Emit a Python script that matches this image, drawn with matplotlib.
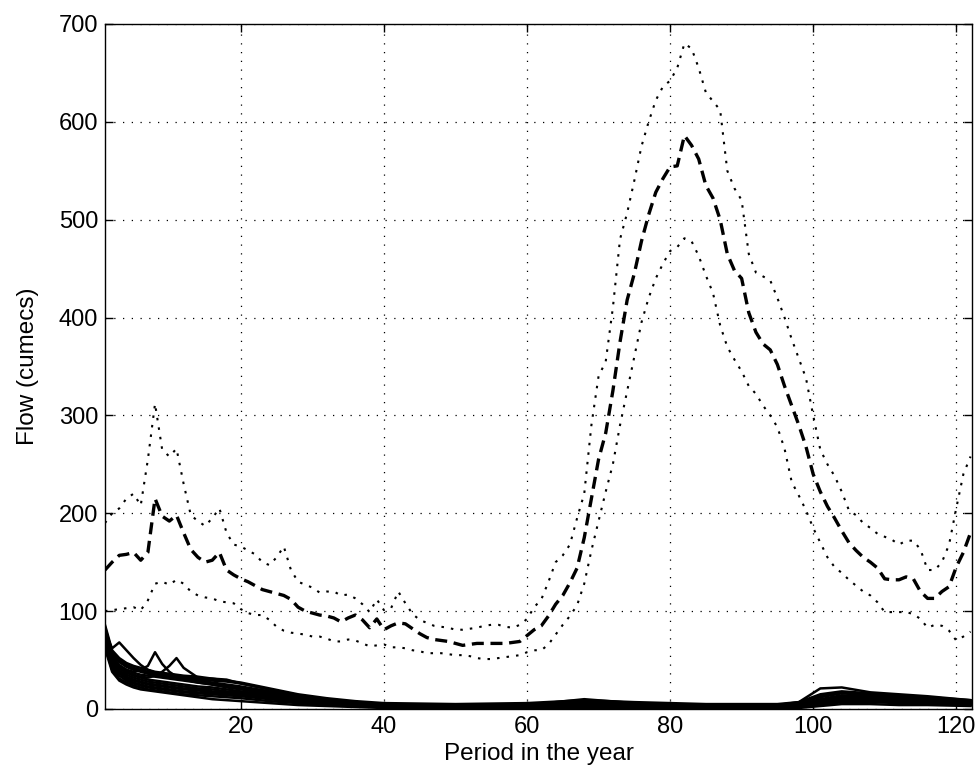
import matplotlib
matplotlib.use("Agg")
import matplotlib.pyplot as plt

plt.rcParams['font.family'] = ['Liberation Sans', 'DejaVu Sans']

# periods 1..122
periods = list(range(1, 123))

# mean flow (dashed)
mean_flow = [142, 150, 157, 158, 160, 152, 160, 215, 197, 192,
             198, 180, 163, 155, 150, 152, 160, 142, 137, 133,
             130, 126, 122, 120, 118, 116, 112, 104, 100, 98,
             96, 95, 93, 89, 93, 96, 91, 83, 92, 81,
             85, 88, 87, 82, 77, 73, 71, 70, 69, 67,
             65, 66, 67, 67, 67, 67, 67, 68, 69, 75,
             81, 85, 95, 107, 116, 129, 144, 175, 215, 255,
             282, 325, 375, 418, 445, 478, 505, 528, 542, 554,
             555, 586, 576, 562, 535, 522, 500, 465, 448, 440,
             405, 385, 373, 367, 352, 330, 310, 290, 268, 240,
             222, 207, 195, 182, 170, 162, 155, 150, 144, 133,
             132, 132, 135, 133, 120, 113, 113, 120, 125, 145,
             160, 180]

# upper bound (dotted)
upper_flow = [190, 200, 205, 215, 220, 208, 255, 312, 265, 258,
              266, 230, 198, 192, 187, 195, 205, 180, 168, 166,
              162, 158, 150, 147, 155, 166, 142, 130, 127, 124,
              119, 120, 120, 116, 117, 113, 107, 99, 112, 101,
              103, 120, 108, 97, 91, 88, 85, 84, 83, 81,
              81, 82, 83, 85, 86, 86, 84, 83, 86, 92,
              104, 112, 130, 150, 157, 168, 195, 220, 290, 340,
              355, 410, 480, 507, 540, 575, 600, 622, 636, 642,
              655, 680, 675, 655, 630, 621, 612, 550, 532, 520,
              465, 446, 442, 438, 420, 400, 378, 358, 338, 300,
              265, 250, 238, 222, 203, 198, 190, 185, 179, 176,
              173, 168, 172, 172, 163, 142, 142, 150, 168, 205,
              240, 258]

# lower bound (dotted)
lower_flow = [100, 101, 102, 103, 104, 101, 111, 128, 130, 127,
              132, 128, 120, 116, 114, 113, 110, 109, 108, 102,
              98, 96, 96, 91, 84, 80, 78, 77, 76, 74,
              74, 72, 69, 69, 71, 70, 67, 64, 65, 66,
              63, 63, 62, 60, 59, 57, 57, 57, 56, 55,
              55, 54, 52, 51, 51, 52, 53, 54, 55, 58,
              60, 60, 66, 76, 86, 95, 106, 128, 162, 192,
              222, 250, 290, 325, 360, 395, 420, 440, 455, 468,
              472, 481, 478, 463, 443, 425, 392, 370, 357, 345,
              330, 322, 310, 300, 288, 266, 232, 218, 203, 185,
              170, 155, 145, 139, 132, 126, 120, 116, 109, 99,
              99, 99, 99, 97, 92, 83, 86, 85, 80, 70,
              74, 79]

# individual years near the bottom (thin solid)
ens_periods = [1, 2, 3, 4, 5, 6, 7, 8, 9, 10, 11, 12, 14, 16, 18, 20, 24, 28,
               32, 36, 40, 50, 60, 68, 75, 85, 95, 98, 101, 104, 108, 112, 116, 122]
year_01 = [86, 60, 52, 47, 44, 42, 40, 38, 37, 36, 35, 34, 33, 31, 29, 27, 21, 15,
           11, 8, 6, 5, 6, 9, 7, 5, 5, 7, 15, 18, 16, 14, 12, 9]
year_02 = [82, 56, 48, 43, 40, 38, 36, 35, 34, 33, 32, 31, 29, 27, 25, 23, 18, 13,
           10, 7, 5, 4, 5, 8, 6, 4, 4, 6, 12, 16, 14, 12, 10, 8]
year_03 = [78, 62, 68, 60, 52, 45, 40, 37, 35, 34, 33, 31, 28, 26, 24, 22, 17, 12,
           9, 6, 4, 3, 4, 6, 4, 3, 3, 4, 10, 14, 13, 11, 9, 7]
year_04 = [75, 52, 44, 40, 38, 40, 44, 58, 46, 38, 33, 30, 27, 25, 23, 21, 16, 11,
           8, 6, 4, 2, 3, 5, 4, 2, 2, 4, 9, 13, 12, 10, 8, 6]
year_05 = [72, 50, 42, 38, 35, 33, 32, 34, 38, 44, 52, 42, 32, 25, 22, 20, 15, 10,
           7, 5, 3, 2, 2, 5, 3, 2, 2, 3, 8, 12, 11, 9, 7, 5]
year_06 = [70, 47, 39, 35, 32, 30, 28, 27, 26, 25, 24, 23, 21, 20, 18, 17, 13, 9,
           6, 4, 3, 2, 2, 4, 3, 2, 2, 3, 7, 10, 10, 8, 7, 5]
year_07 = [68, 44, 36, 32, 29, 27, 25, 24, 23, 22, 21, 20, 19, 17, 16, 15, 11, 8,
           5, 4, 3, 1, 2, 4, 3, 1, 1, 3, 6, 9, 9, 8, 6, 5]
year_08 = [66, 42, 34, 29, 26, 24, 22, 21, 20, 19, 18, 17, 16, 15, 14, 13, 10, 7,
           5, 3, 2, 1, 1, 3, 2, 1, 1, 2, 5, 8, 8, 7, 6, 4]
year_09 = [64, 40, 31, 27, 24, 22, 20, 19, 18, 17, 16, 15, 14, 13, 12, 11, 8, 6,
           4, 3, 2, 1, 1, 2, 1, 1, 1, 2, 4, 7, 7, 6, 5, 4]
year_10 = [62, 38, 29, 25, 22, 20, 19, 18, 17, 16, 15, 14, 12, 10, 9, 8, 6, 4,
           3, 2, 1, 0, 0, 1, 1, 0, 0, 1, 3, 5, 5, 4, 4, 3]
year_11 = [80, 58, 50, 45, 42, 40, 38, 37, 36, 35, 34, 33, 31, 31, 30, 26, 20, 14,
           10, 7, 5, 3, 4, 10, 6, 4, 4, 7, 21, 22, 17, 15, 13, 9]
year_12 = [76, 54, 45, 40, 37, 35, 34, 33, 32, 31, 30, 29, 27, 25, 23, 21, 16, 12,
           9, 6, 4, 3, 3, 6, 4, 3, 3, 4, 9, 13, 12, 11, 9, 6]
year_13 = [73, 49, 41, 37, 34, 32, 30, 29, 28, 27, 26, 25, 23, 22, 20, 18, 14, 10,
           7, 5, 3, 2, 3, 5, 3, 2, 2, 3, 8, 11, 11, 9, 8, 6]
year_14 = [67, 45, 37, 31, 27, 25, 23, 22, 21, 20, 19, 18, 17, 16, 15, 14, 11, 8,
           5, 4, 2, 1, 2, 4, 3, 1, 1, 3, 5, 9, 8, 7, 6, 5]
year_15 = [84, 58, 49, 44, 41, 39, 37, 35, 34, 33, 32, 31, 30, 29, 28, 26, 20, 14,
           10, 7, 5, 4, 5, 8, 6, 4, 4, 6, 13, 17, 15, 13, 11, 8]
year_16 = [69, 46, 38, 33, 30, 28, 26, 25, 24, 23, 22, 21, 20, 18, 17, 16, 12, 9,
           6, 4, 3, 1, 2, 4, 3, 1, 1, 3, 6, 10, 9, 8, 7, 5]
years = [year_01, year_02, year_03, year_04, year_05, year_06, year_07, year_08,
         year_09, year_10, year_11, year_12, year_13, year_14, year_15, year_16]

fig = plt.figure(figsize=(9.8, 7.79), dpi=100)
ax = fig.add_axes([0.1071, 0.0899, 0.8847, 0.8793])

for y in years:
    ax.plot(ens_periods, y, color='black', linewidth=1.8)

ax.plot(periods, upper_flow, color='black', linewidth=1.5, linestyle=(0, (1.2, 3.4)))
ax.plot(periods, lower_flow, color='black', linewidth=1.5, linestyle=(0, (1.2, 3.4)))
ax.plot(periods, mean_flow, color='black', linewidth=2.4, linestyle=(0, (3.6, 2.0)))

ax.set_xlim(1, 122.2)
ax.set_ylim(0, 700)
ax.set_xticks([20, 40, 60, 80, 100, 120])
ax.set_yticks(range(0, 701, 100))
ax.grid(True, color='black', linestyle=(0, (1, 6)), linewidth=0.9)
ax.tick_params(direction='in', length=6, width=1, top=True, right=True,
               labelsize=17, colors='black', pad=5)
for s in ax.spines.values():
    s.set_linewidth(1.0)
ax.set_xlabel('Period in the year', fontsize=17.5, labelpad=4)
ax.set_ylabel('Flow (cumecs)', fontsize=17.5, labelpad=14)

fig.savefig('out.png', dpi=100)
